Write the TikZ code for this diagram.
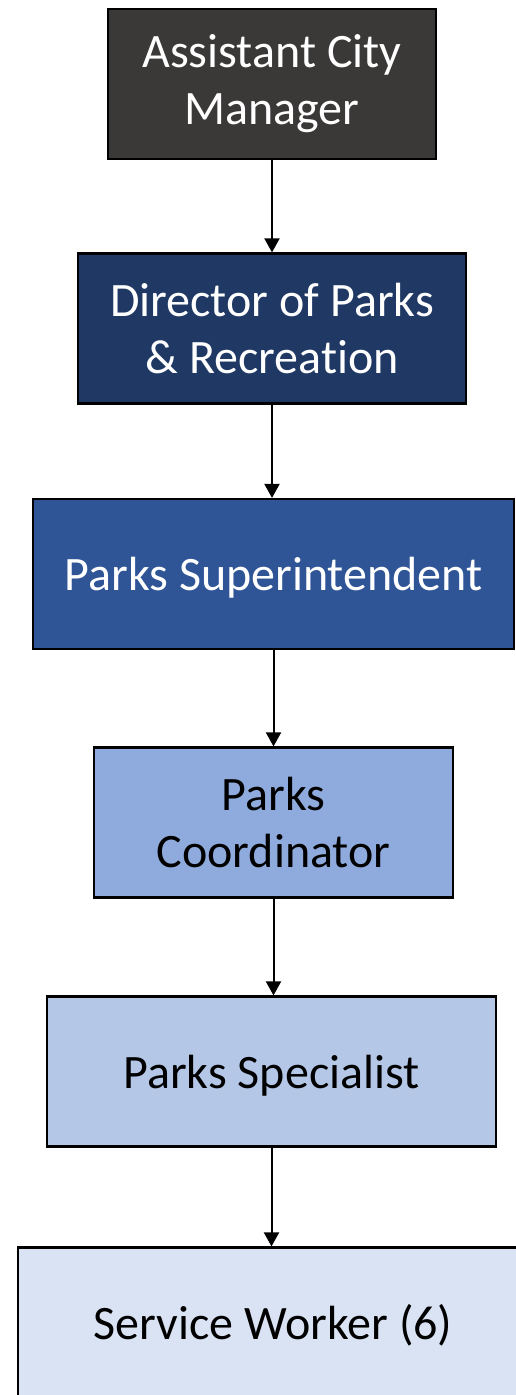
\documentclass[tikz,border=0pt]{standalone}
\usepackage{fontspec}
\setmainfont{Carlito}[Ligatures=NoCommon]
\usetikzlibrary{arrows.meta}

\definecolor{acmgray}{HTML}{3B3838}
\definecolor{dirnavy}{HTML}{203864}
\definecolor{supblue}{HTML}{2F5597}
\definecolor{coordblue}{HTML}{8FAADC}
\definecolor{specblue}{HTML}{B4C7E7}
\definecolor{workerblue}{HTML}{DAE3F3}

\begin{document}
\begin{tikzpicture} [
                x=1pt, y=-1pt,
                % every box of the chart
                post/.style = {rectangle, draw=black, line width=2.2pt, minimum height=150pt,
                               inner sep=0pt, align=center, font=\fontsize{48}{57}\selectfont},
                % one line of text sits on a fixed baseline
                oneline/.style = {text height=33pt, text depth=0pt},
                twoline/.style = {},
                link/.style = {draw, line width=2pt, -{Triangle[width=15pt,length=14pt]}}
            ]
            \useasboundingbox (0,0) rectangle (516,1395);
            % First we draw the boxes
            \foreach \pos/\name/\ink/\shade/\boxw/\lines/\txt in {
                {(272,84)/acm/white/acmgray/328/twoline/{Assistant City\\Manager}},
                {(272,328.5)/dir/white/dirnavy/388/twoline/{Director of Parks\\\& Recreation}},
                {(273.5,574)/sup/white/supblue/481/oneline/{Parks Superintendent}},
                {(273.5,822.5)/coord/black/coordblue/359/twoline/{Parks\\Coordinator}},
                {(271.5,1071.5)/spec/black/specblue/449/oneline/{Parks Specialist}},
                {(273,1322.5)/worker/black/workerblue/510/oneline/{Service Worker (6)}}}
                \node[post, \lines, fill=\shade, text=\ink, minimum width=\boxw pt] (\name) at \pos {\txt};
            % Connect each box with the one below it
            \foreach \source/\dest in {acm/dir, dir/sup, sup/coord, coord/spec, spec/worker}
                \path[link] (\source.south) -- (\source.south |- \dest.north);
        \end{tikzpicture}
\end{document}
